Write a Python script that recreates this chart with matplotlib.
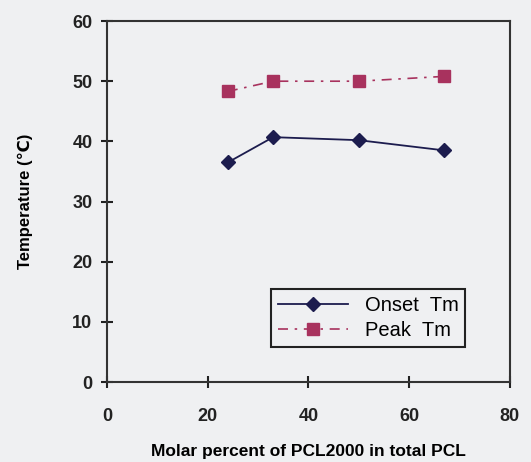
import matplotlib.pyplot as plt

# Datos
x_pct = [24, 33, 50, 67]
onset_tm = [36.5, 40.7, 40.2, 38.5]
peak_tm = [48.3, 50.0, 50.0, 50.8]

plt.rcParams['font.family'] = ['Liberation Sans', 'DejaVu Sans']
plt.rcParams['font.weight'] = 'bold'

fig = plt.figure(figsize=(5.31, 4.62), dpi=100, facecolor='#eff0f2')
ax = fig.add_axes([0.2015, 0.173, 0.7585, 0.7815])
ax.set_facecolor('#eff0f2')

ax.plot(x_pct, onset_tm, color='#1c1c4e', marker='D', markersize=7,
        linewidth=1.3, label='Onset  Tm')
ax.plot(x_pct, peak_tm, color='#a8325e', marker='s', markersize=8,
        linewidth=1.2, linestyle=(0, (6, 4, 1.5, 4)), label='Peak  Tm')

ax.set_xlim(0, 80)
ax.set_ylim(0, 60)
ax.set_xticks([0, 20, 40, 60, 80])
ax.set_yticks([0, 10, 20, 30, 40, 50, 60])
ax.tick_params(direction='inout', length=9, width=1.5, labelsize=13, colors='#222222')
ax.tick_params(axis='x', pad=14)
ax.tick_params(axis='y', pad=6)
for s in ax.spines.values():
    s.set_linewidth(1.5)
    s.set_color('#333333')

ax.set_xlabel('Molar percent of PCL2000 in total PCL', fontsize=12.5, fontweight='bold', labelpad=14)
ax.set_ylabel('Temperature (℃)', fontsize=12, fontweight='bold', labelpad=28)

leg = ax.legend(loc='lower right', bbox_to_anchor=(0.915, 0.07), fontsize=14.5,
                fancybox=False, edgecolor='#222222', framealpha=1,
                facecolor='#eff0f2', handlelength=3.5, borderpad=0.35,
                labelspacing=0.3)
leg.get_frame().set_linewidth(1.5)
for t in leg.get_texts():
    t.set_fontweight('normal')

plt.savefig('out.png', dpi=100, facecolor=fig.get_facecolor())
